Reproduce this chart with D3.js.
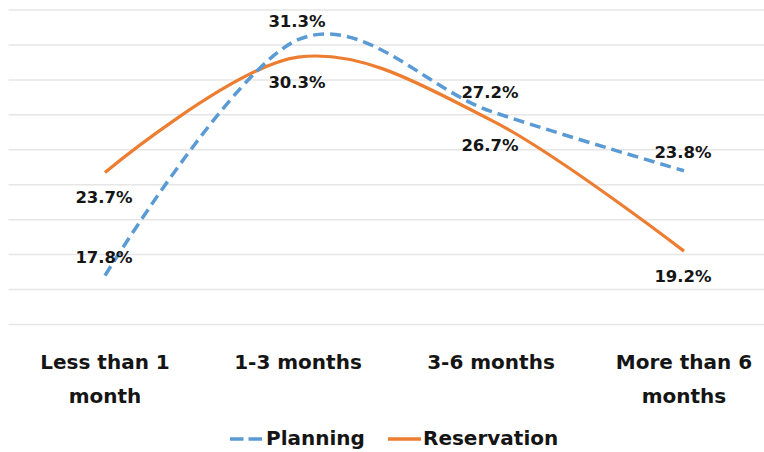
<!DOCTYPE html>
<html>
<head>
<meta charset="utf-8">
<script src="https://cdn.jsdelivr.net/npm/d3@7"></script>
<style>
  html, body { margin: 0; padding: 0; background: #fff; }
  svg { display: block; }
  text { font-family: "DejaVu Sans", sans-serif; font-weight: bold; fill: #151515; }
</style>
</head>
<body>
<svg id="chart" width="764" height="452"></svg>
<script>
const categories = [["Less than 1", "month"], ["1-3 months"], ["3-6 months"], ["More than 6", "months"]];
const planning = [17.8, 31.3, 27.2, 23.8];
const reservation = [23.7, 30.3, 26.7, 19.2];
const seriesNames = ["Planning", "Reservation"];
const gridTicks = [15, 17, 19, 21, 23, 25, 27, 29, 31, 33];

const W = 764, H = 452;
const svg = d3.select("#chart");
const catKeys = categories.map(c => c.join(" "));

const x = d3.scaleBand().domain(catKeys).range([8.5, 780.5]).padding(0);
const cx = k => x(k) + x.bandwidth() / 2;
const y = d3.scaleLinear().domain([15, 33]).range([324.5, 10]);

// gridlines
svg.append("g").selectAll("line").data(gridTicks).join("line")
  .attr("x1", 8.5).attr("x2", W)
  .attr("y1", d => y(d)).attr("y2", d => y(d))
  .attr("stroke", "#e6e6e6").attr("stroke-width", 1.5);

const line = d3.line()
  .x((d, i) => cx(catKeys[i]))
  .y(d => y(d))
  .curve(d3.curveCardinal.tension(0));

const blue = "#5B9BD5", orange = "#ED7D31";

svg.append("path").datum(reservation).attr("d", line)
  .attr("fill", "none").attr("stroke", orange).attr("stroke-width", 3.2);
svg.append("path").datum(planning).attr("d", line)
  .attr("fill", "none").attr("stroke", blue).attr("stroke-width", 3.5)
  .attr("stroke-dasharray", "11,6");

// data labels
svg.append("g").selectAll("text").data(planning).join("text")
  .attr("x", (d, i) => cx(catKeys[i]) - 1)
  .attr("y", d => y(d) - 13)
  .attr("text-anchor", "middle").attr("font-size", 16.5)
  .text(d => d.toFixed(1) + "%");
svg.append("g").selectAll("text").data(reservation).join("text")
  .attr("x", (d, i) => cx(catKeys[i]) - 1)
  .attr("y", d => y(d) + 31)
  .attr("text-anchor", "middle").attr("font-size", 16.5)
  .text(d => d.toFixed(1) + "%");

// category labels
const cat = svg.append("g").selectAll("text").data(categories).join("text")
  .attr("x", (d, i) => cx(catKeys[i]))
  .attr("y", 369)
  .attr("text-anchor", "middle").attr("font-size", 20);
cat.selectAll("tspan").data(d => d).join("tspan")
  .attr("x", function () { return d3.select(this.parentNode).attr("x"); })
  .attr("dy", (d, i) => i === 0 ? 0 : 34)
  .text(d => d);

// legend
const lg = svg.append("g");
lg.append("line").attr("x1", 230).attr("x2", 262).attr("y1", 439).attr("y2", 439)
  .attr("stroke", blue).attr("stroke-width", 3.5).attr("stroke-dasharray", "13.5,5");
lg.append("text").attr("x", 266).attr("y", 445).attr("font-size", 20).text(seriesNames[0]);
lg.append("line").attr("x1", 388).attr("x2", 421).attr("y1", 439).attr("y2", 439)
  .attr("stroke", orange).attr("stroke-width", 3.5);
lg.append("text").attr("x", 423).attr("y", 445).attr("font-size", 20).text(seriesNames[1]);
</script>
</body>
</html>
